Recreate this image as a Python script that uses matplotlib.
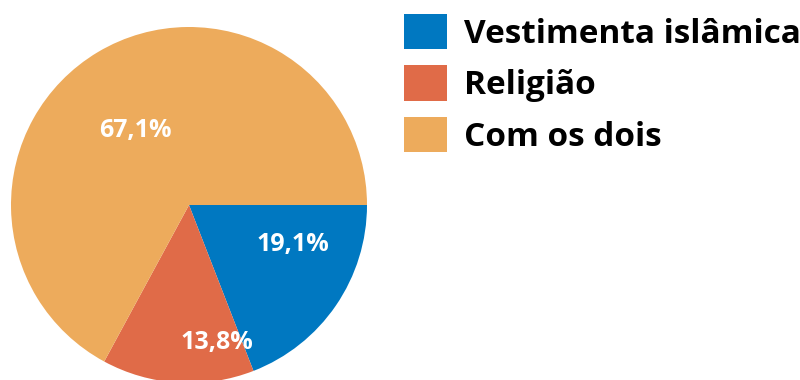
import matplotlib.pyplot as plt
import numpy as np

# dados
categorias = ['Vestimenta islâmica', 'Religião', 'Com os dois']
valores = [19.1, 13.8, 67.1]
rotulos = ['19,1%', '13,8%', '67,1%']
cores = ['#0078C1', '#E06B48', '#EDAB5C']

# posição dos rótulos (ângulo em graus, raio relativo)
pos_rotulos = [(-20.6, 0.624), (-78.5, 0.79), (126.1, 0.515)]

plt.rcParams['font.family'] = ['Open Sans', 'DejaVu Sans']

fig = plt.figure(figsize=(8, 3.8), dpi=100)

# eixo da pizza: centro em (189, 205) px, raio 178 px
cx, cy, r = 189, 205, 178
ax = fig.add_axes([(cx - r) / 800, (380 - cy - r) / 380, 2 * r / 800, 2 * r / 380])
wedges, _ = ax.pie(valores, colors=cores, startangle=0, counterclock=False,
                   radius=1, frame=False, wedgeprops=dict(linewidth=0))
ax.set_xlim(-1, 1)
ax.set_ylim(-1, 1)
ax.set_aspect('equal')
ax.axis('off')

for txt, (ang, rr) in zip(rotulos, pos_rotulos):
    a = np.radians(ang)
    ax.text(rr * np.cos(a), rr * np.sin(a), txt, color='white', fontsize=18,
            fontweight='bold', ha='center', va='center')

leg = fig.legend(wedges, categorias, loc='upper left', bbox_to_anchor=(0.505, 0.964),
                 frameon=False, handlelength=1.3, handleheight=1.26,
                 handletextpad=0.5, labelspacing=0.44, borderaxespad=0,
                 borderpad=0, prop=dict(weight='bold', size=24))

fig.savefig('out.png', dpi=100)
